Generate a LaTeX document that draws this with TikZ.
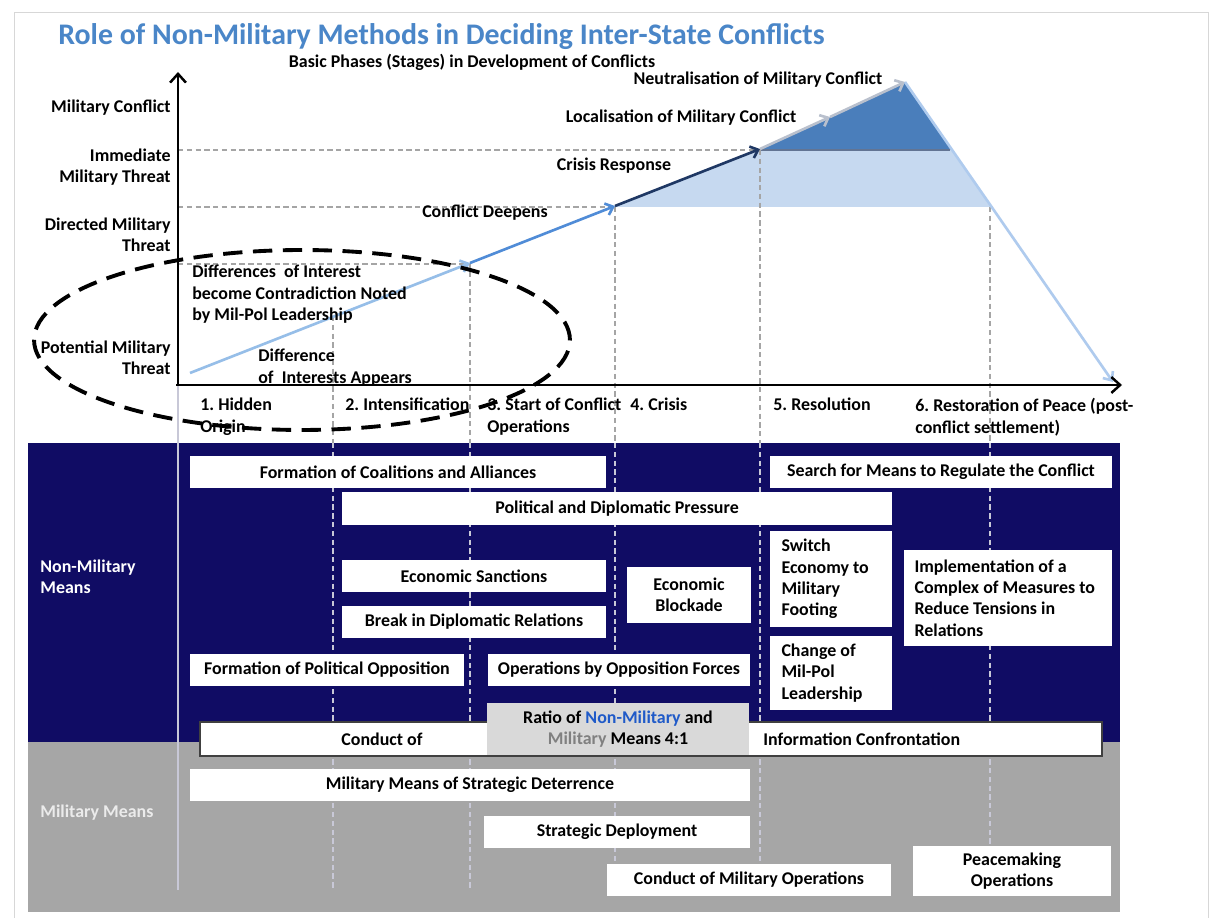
\documentclass[tikz,border=0pt]{standalone}
\usepackage{fontspec}
\setmainfont{Carlito}
\usetikzlibrary{arrows.meta}
\frenchspacing
\definecolor{titleblue}{RGB}{74,134,200}
\definecolor{navyband}{RGB}{16,12,100}
\definecolor{greyband}{RGB}{166,166,166}
\definecolor{framegrey}{RGB}{215,215,215}
\definecolor{dashgrey}{RGB}{165,165,165}
\definecolor{lowdash}{RGB}{200,200,215}
\definecolor{peakblue}{RGB}{74,126,187}
\definecolor{bandblue}{RGB}{198,217,240}
\definecolor{riseone}{RGB}{150,190,232}
\definecolor{risetwo}{RGB}{80,140,215}
\definecolor{risethree}{RGB}{31,56,100}
\definecolor{risefour}{RGB}{185,192,205}
\definecolor{fallblue}{RGB}{175,203,238}
\definecolor{ratiofill}{RGB}{217,217,217}
\definecolor{ratioblue}{RGB}{31,90,200}
\definecolor{ratiogrey}{RGB}{128,128,128}

\begin{document}
\begin{tikzpicture}[x=0.02cm,y=-0.02cm,
  lbl/.style={font=\bfseries\fontsize{10.2}{12.2}\selectfont,inner sep=0pt},
  wbox/.style={lbl,fill=white,align=center},
  lbox/.style={lbl,fill=white,align=flush left},
  updash/.style={draw=dashgrey,dash pattern=on 3pt off 2pt,line width=0.7pt},
  lowline/.style={draw=lowdash,dash pattern=on 3pt off 2pt,line width=0.7pt},
  axis/.style={line width=1.4pt,-{Straight Barb[length=5pt,width=9pt]}},
  trend/.style={line width=1.5pt,-{Straight Barb[length=4pt,width=7pt]}}]

\useasboundingbox (0,0) rectangle (1225,918);
\fill[white] (0,0) rectangle (1225,918);
\draw[framegrey] (14,12) rectangle (1208,930);

\node[lbl,anchor=base west,text=titleblue,font=\bfseries\fontsize{17}{20}\selectfont] (title) at (58,45) {Role of Non-Military Methods in Deciding Inter-State Conflicts};
\node[lbl] (phases) at (472,62) {Basic Phases (Stages) in Development of Conflicts};

\fill[navyband] (28,443) rectangle (1120,742);
\fill[greyband] (28,742) rectangle (1120,912);

\coordinate (origin) at (178,385);
\coordinate (ytop) at (178,72);
\coordinate (xend) at (1122,385);
\coordinate (o) at (190,373);
\coordinate (p1) at (470,263);
\coordinate (p2) at (615,206);
\coordinate (p3) at (760,149);
\coordinate (p4) at (830,117);
\coordinate (pk) at (905,82);
\coordinate (fin) at (1113,382);

\fill[bandblue] (615,207) -- (760,150) -- (952,150) -- (991,207) -- cycle;
\fill[peakblue] (760,150) -- (905,82) -- (952,150) -- cycle;
\draw[line width=1pt,risethree!70] (760,150) -- (950,150);

\draw[updash] (178,150) -- (760,150);
\draw[updash] (178,207) -- (615,207);
\draw[updash] (178,264) -- (470,264);

\draw[updash] (333,316) -- (333,443);
\draw[updash] (470,263) -- (470,443);
\draw[updash] (615,207) -- (615,443);
\draw[updash] (760,150) -- (760,443);
\draw[updash] (990,207) -- (990,443);
\draw[draw=lowdash,line width=0.8pt] (178,385) -- (178,890);
\draw[lowline] (333,443) -- (333,888);
\draw[lowline] (470,443) -- (470,888);
\draw[lowline] (615,443) -- (615,888);
\draw[lowline] (760,443) -- (760,888);
\draw[lowline] (990,443) -- (990,888);

\draw[trend,riseone] (o) -- (p1);
\draw[trend,risetwo] (p1) -- (p2);
\draw[trend,risethree] (p2) -- (p3);
\draw[trend,risefour] (p3) -- (p4);
\draw[trend,risefour] (p4) -- (pk);
\draw[trend,fallblue] (pk) -- (fin);

\draw[axis] (origin) -- (ytop);
\draw[axis] (176,385) -- (xend);

\node[lbl,anchor=east] (mc) at (171,108) {Military Conflict};
\node[lbl,anchor=east,align=right] (imt) at (171,167) {Immediate\\Military Threat};
\node[lbl,anchor=east,align=right] (dmt) at (171,235) {Directed Military\\Threat};
\node[lbl,anchor=east,align=right] (pmt) at (171,358) {Potential Military\\Threat};

\node[lbl] (neut) at (758,80) {Neutralisation of Military Conflict};
\node[lbl] (local) at (681,118) {Localisation of Military Conflict};
\node[lbl] (cresp) at (614,166) {Crisis Response};
\node[lbl] (deep) at (485,213) {Conflict Deepens};
\node[lbl,anchor=north west,align=left] (contra) at (192,265) {Differences\ \ of Interest\\become Contradiction Noted\\by Mil-Pol Leadership};
\node[lbl,anchor=north west,align=left] (appear) at (258,349) {Difference\\of\ \ Interests Appears};

\node[lbl,anchor=north west,align=left] (ph1) at (200,398) {1. Hidden\\Origin};
\node[lbl,anchor=north west,align=left] (ph2) at (345,398) {2. Intensification};
\node[lbl,anchor=north west,align=left] (ph3) at (487,398) {3. Start of Conflict\\Operations};
\node[lbl,anchor=north west,align=left] (ph4) at (630,398) {4. Crisis};
\node[lbl,anchor=north west,align=left] (ph5) at (773,398) {5. Resolution};
\node[lbl,anchor=north west,align=left] (ph6) at (915,398) {6. Restoration of Peace (post-\\conflict settlement)};

\draw[line width=2.2pt,dash pattern=on 11pt off 6pt] (302,340) ellipse [x radius=5.36cm,y radius=1.8cm];

\node[lbl,anchor=west,align=left,text=white] (nonmil) at (40,577) {Non-Military\\Means};
\node[lbl,anchor=west,text=white!92!black] (mil) at (40,813) {Military Means};

\node[wbox,minimum width=8.32cm,minimum height=0.64cm] (coal) at (398,472) {Formation of Coalitions and Alliances};
\node[wbox,minimum width=6.84cm,minimum height=0.64cm] (search) at (941,472) {Search for Means to Regulate the Conflict};
\node[wbox,minimum width=11.02cm,minimum height=0.66cm] (press) at (617,509) {Political and Diplomatic Pressure};
\node[wbox,minimum width=5.28cm,minimum height=0.66cm] (sanct) at (474,576) {Economic Sanctions};
\node[wbox,minimum width=2.48cm,minimum height=1.12cm] (block) at (689,595) {Economic\\Blockade};
\node[wbox,minimum width=5.28cm,minimum height=0.66cm] (breakrel) at (474,622) {Break in Diplomatic Relations};
\node[lbox,minimum width=2.46cm,minimum height=1.92cm,text width=1.98cm] (switch) at (831,579) {Switch\\Economy to\\Military\\Footing};
\node[lbox,minimum width=4.18cm,minimum height=1.94cm,text width=3.74cm] (implem) at (1008,598) {Implementation of a\\Complex of Measures to\\Reduce Tensions in\\Relations};
\node[lbox,minimum width=2.46cm,minimum height=1.5cm,text width=1.98cm] (milpol) at (831,673) {Change of\\Mil-Pol\\Leadership};
\node[wbox,minimum width=5.48cm,minimum height=0.66cm] (polopp) at (327,670) {Formation of Political Opposition};
\node[wbox,minimum width=5.26cm,minimum height=0.66cm] (oppforce) at (619,670) {Operations by Opposition Forces};

\node[wbox,draw=black!75,line width=0.8pt,minimum width=18.04cm,minimum height=0.68cm] (infobox) at (651,739) {};
\node[lbl] (conduct) at (382,739) {Conduct of};
\node[lbl,anchor=west] (infoconf) at (763,739) {Information Confrontation};
\node[wbox,fill=ratiofill,minimum width=5.26cm,minimum height=1.06cm] (ratio) at (618,729) {Ratio of \textcolor{ratioblue}{Non-Military} and\\\textcolor{ratiogrey}{Military} Means 4:1};

\node[wbox,minimum width=11.2cm,minimum height=0.64cm] (deter) at (470,785) {Military Means of Strategic Deterrence};
\node[wbox,minimum width=5.32cm,minimum height=0.66cm] (deploy) at (617,832) {Strategic Deployment};
\node[wbox,minimum width=5.7cm,minimum height=0.66cm] (milops) at (749,880) {Conduct of Military Operations};
\node[wbox,minimum width=3.98cm,minimum height=1.02cm] (peace) at (1012,871) {Peacemaking\\Operations};
\end{tikzpicture}
\end{document}
